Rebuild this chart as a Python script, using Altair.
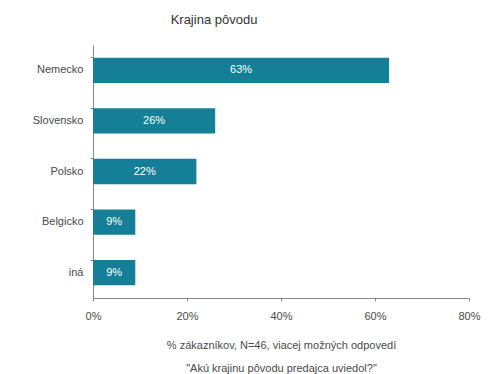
import altair as alt
import pandas as pd

countries = ["Nemecko", "Slovensko", "Polsko", "Belgicko", "iná"]
values = [63, 26, 22, 9, 9]
x_ticks = [0, 20, 40, 60, 80]

df = pd.DataFrame({"country": countries, "value": values})
df["label"] = df["value"].astype(str) + "%"

FONT = "Liberation Sans"
BAR = "#147f97"
AX = "#888888"
TXT = "#4a4a4a"

y = alt.Y("country:N", sort=countries,
          scale=alt.Scale(paddingInner=0.5, paddingOuter=0.25),
          axis=alt.Axis(title=None, labelFont=FONT, labelFontSize=11, labelColor=TXT,
                        domainColor=AX, tickColor=AX, ticks=True, tickSize=3,
                        bandPosition=0, labelPadding=7))

bars = alt.Chart(df).mark_bar(color=BAR).encode(
    x=alt.X("value:Q", scale=alt.Scale(domain=[0, 80]),
            axis=alt.Axis(values=x_ticks, labelExpr="datum.value + '%'", grid=False,
                          labelFlush=False,
                          labelFont=FONT, labelFontSize=11, labelColor=TXT,
                          domainColor=AX, tickColor=AX, tickSize=3, labelPadding=9,
                          title=["%  zákazníkov, N=46, viacej možných odpovedí",
                                 "\"Akú krajinu pôvodu predajca uviedol?\""],
                          titleFont=FONT, titleFontSize=11, titleFontWeight="normal",
                          titleColor=TXT, titlePadding=18, titleLineHeight=23)),
    y=y,
)

labels = alt.Chart(df).mark_text(color="white", font=FONT, fontSize=11).encode(
    x=alt.X("mid:Q"),
    y=alt.Y("country:N", sort=countries),
    text="label:N",
).transform_calculate(mid="datum.value / 2")

chart = alt.layer(bars, labels).properties(
    width=376, height=253,
    autosize=alt.AutoSizeParams(type="none"),
    padding={"left": 85, "top": 37, "right": 15, "bottom": 80},
    title=alt.TitleParams("Krajina pôvodu", anchor="middle", dx=-67, offset=18,
                          font=FONT, fontSize=13, fontWeight="normal", color="#333333"),
).configure(background="white", view=alt.ViewConfig(stroke=None))

chart.save("out.html", embed_options={"renderer": "svg", "actions": False})
